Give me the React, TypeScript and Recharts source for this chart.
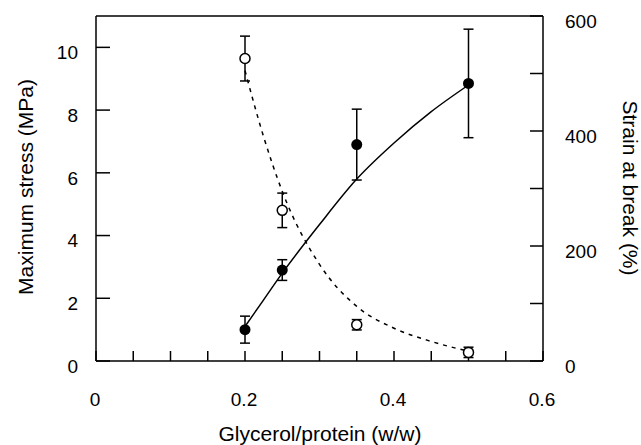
import React from "react";
import {
  ComposedChart,
  Line,
  Scatter,
  ErrorBar,
  XAxis,
  YAxis,
  ReferenceLine,
  Label,
} from "recharts";

// measured points
const glycerol = [0.2, 0.25, 0.35, 0.5];
const stress = [1.0, 2.9, 6.9, 8.85];
const stressErr = [0.43, 0.33, 1.13, 1.73];
const strain = [526, 262, 63, 15];
const strainErr = [39, 30, 9, 9];

// fitted curves
const fitX = [0.2, 0.225, 0.25, 0.3, 0.35, 0.4, 0.45, 0.5];
const stressFit = [1.1, 1.95, 2.8, 4.35, 5.8, 6.95, 7.95, 8.8];
const strainFit = [505, 390, 295, 168, 95, 57, 34, 17];

// axes
const xTicks = [0, 0.05, 0.1, 0.15, 0.2, 0.25, 0.3, 0.35, 0.4, 0.45, 0.5, 0.55, 0.6];
const xLabelled = [0, 0.2, 0.4, 0.6];
const stressTicks = [0, 2, 4, 6, 8, 10];
const strainTicks = [0, 100, 200, 300, 400, 500, 600];
const strainLabelled = [0, 200, 400, 600];

const FONT = "'Liberation Sans', Arial, Helvetica, sans-serif";
const INK = "#000";

const stressPts = glycerol.map((x, i) => ({ x, y: stress[i], err: stressErr[i] }));
const strainPts = glycerol.map((x, i) => ({ x, y: strain[i], err: strainErr[i] }));
const stressCurve = fitX.map((x, i) => ({ x, y: stressFit[i] }));
const strainCurve = fitX.map((x, i) => ({ x, y: strainFit[i] }));

const tickStyle = { fill: INK, fontSize: 19, fontFamily: FONT };

const NoDot = () => <g />;
const FilledDot = (p: any) => <circle cx={p.cx} cy={p.cy} r={5.5} fill={INK} />;
const OpenDot = (p: any) => (
  <circle cx={p.cx} cy={p.cy} r={5} fill="#fff" stroke={INK} strokeWidth={1.5} />
);

export default function App() {
  return (
    <div style={{ position: "absolute", left: 0, top: 0, background: "#fff" }}>
      <ComposedChart
        width={641}
        height={445}
        margin={{ top: 16, right: 0, bottom: 0, left: 0 }}
      >
        <XAxis
          type="number"
          dataKey="x"
          domain={[0, 0.6]}
          ticks={xTicks}
          interval={0}
          tickSize={-10}
          tickMargin={42}
          height={84}
          tick={{ ...tickStyle, dx: -1 }}
          tickLine={{ stroke: INK, strokeWidth: 1.5 }}
          axisLine={{ stroke: INK, strokeWidth: 1.5 }}
          tickFormatter={(v: number) => (xLabelled.includes(v) ? String(v) : "")}
        >
          <Label
            content={() => (
              <text x={320} y={441} textAnchor="middle" fontSize={21} fontFamily={FONT} fill={INK}>
                Glycerol/protein (w/w)
              </text>
            )}
          />
        </XAxis>
        <YAxis
          yAxisId="left"
          dataKey="y"
          domain={[0, 11]}
          ticks={stressTicks}
          interval={0}
          width={96}
          tickSize={-14}
          tickMargin={32}
          tick={{ ...tickStyle, dy: 5 }}
          tickLine={{ stroke: INK, strokeWidth: 1.5 }}
          axisLine={{ stroke: INK, strokeWidth: 1.5 }}
        >
          <Label
            content={() => (
              <text
                transform="translate(32.5,187) rotate(-90)"
                textAnchor="middle"
                fontSize={21}
                fontFamily={FONT}
                fill={INK}
              >
                Maximum stress (MPa)
              </text>
            )}
          />
        </YAxis>
        <YAxis
          yAxisId="right"
          orientation="right"
          dataKey="y"
          domain={[0, 600]}
          ticks={strainTicks}
          interval={0}
          width={98}
          tickSize={-13}
          tickMargin={35}
          tick={{ ...tickStyle, dy: 5 }}
          tickLine={{ stroke: INK, strokeWidth: 1.5 }}
          axisLine={{ stroke: INK, strokeWidth: 1.5 }}
          tickFormatter={(v: number) => (strainLabelled.includes(v) ? String(v) : "")}
        >
          <Label
            content={() => (
              <text
                transform="translate(622.5,188) rotate(90)"
                textAnchor="middle"
                fontSize={21}
                fontFamily={FONT}
                fill={INK}
              >
                Strain at break (%)
              </text>
            )}
          />
        </YAxis>
        <ReferenceLine yAxisId="left" y={11} stroke={INK} strokeWidth={1.5} />

        <Line
          yAxisId="left"
          data={stressCurve}
          dataKey="y"
          type="monotone"
          stroke={INK}
          strokeWidth={1.5}
          dot={false}
          activeDot={false}
          isAnimationActive={false}
        />
        <Line
          yAxisId="right"
          data={strainCurve}
          dataKey="y"
          type="monotone"
          stroke={INK}
          strokeWidth={1.5}
          strokeDasharray="4 5"
          dot={false}
          activeDot={false}
          isAnimationActive={false}
        />
        {/* error bars first, markers drawn over them */}
        <Scatter yAxisId="left" data={stressPts} shape={NoDot} isAnimationActive={false}>
          <ErrorBar dataKey="err" direction="y" width={5} stroke={INK} strokeWidth={1.5} />
        </Scatter>
        <Scatter yAxisId="right" data={strainPts} shape={NoDot} isAnimationActive={false}>
          <ErrorBar dataKey="err" direction="y" width={5} stroke={INK} strokeWidth={1.5} />
        </Scatter>
        <Scatter yAxisId="left" data={stressPts} shape={FilledDot} isAnimationActive={false} />
        <Scatter yAxisId="right" data={strainPts} shape={OpenDot} isAnimationActive={false} />
      </ComposedChart>
    </div>
  );
}
